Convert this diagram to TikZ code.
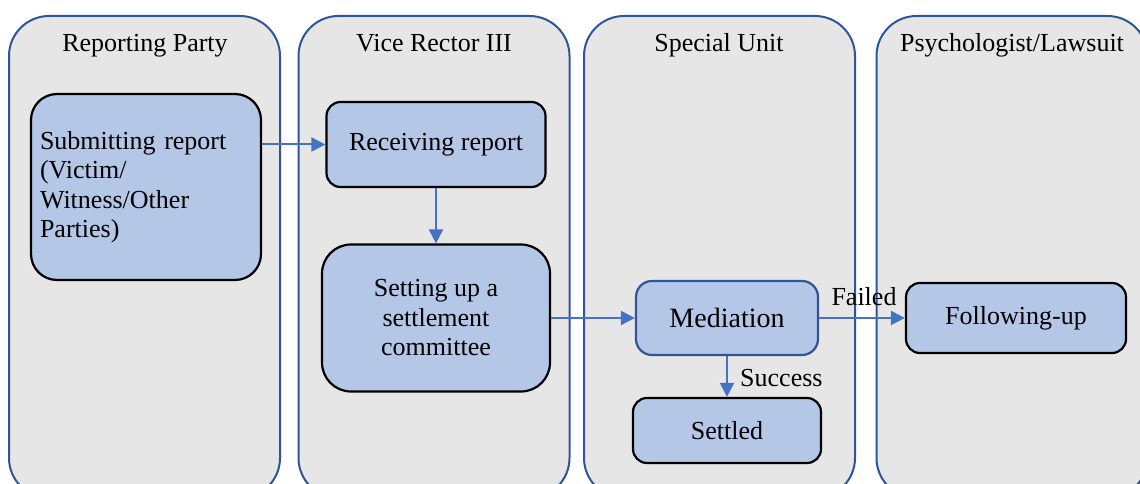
\documentclass[tikz,border=0pt]{standalone}
\usepackage{fontspec}
\setmainfont{Liberation Serif}
\usetikzlibrary{arrows.meta}
\definecolor{laneFill}{HTML}{E7E6E6}
\definecolor{laneLine}{HTML}{2F5597}
\definecolor{boxFill}{HTML}{B4C7E7}
\definecolor{flow}{HTML}{4472C4}
\begin{document}
\begin{tikzpicture}[x=1pt,y=-1pt,
  every node/.style={font=\fontsize{26}{29.5}\selectfont},
  lane/.style={draw=laneLine, fill=laneFill, line width=2pt, rounded corners=40pt,
    minimum width=271pt, minimum height=482pt, inner sep=0pt, anchor=north},
  title/.style={anchor=base, inner sep=0pt},
  stepbox/.style={draw=black, fill=boxFill, line width=2.2pt, inner sep=0pt, align=center},
  bluebox/.style={stepbox, draw=laneLine},
  lbl/.style={inner sep=0pt},
  arrow/.style={draw=flow, line width=2pt, -{Triangle[length=14pt,width=14pt]}}
]
\useasboundingbox (0,0) rectangle (1140,484);

% swimlanes
\begin{scope}
  \clip (0,0) rectangle (1140,484);
  \node[lane] (lane1) at (144.5,15) {};
  \node[lane] (lane2) at (434,15) {};
  \node[lane] (lane3) at (719.5,15) {};
  \node[lane] (lane4) at (1012,15) {};
\end{scope}

% lane headings
\node[title] (t1) at (145,52) {Reporting Party};
\node[title] (t2) at (434,52) {Vice Rector III};
\node[title] (t3) at (719,52) {Special Unit};
\node[title] (t4) at (1012,52) {Psychologist/Lawsuit};

% process steps
\node[stepbox, rounded corners=26pt, minimum width=230pt, minimum height=186pt,
      text width=212pt, align=left] (submit) at (146,187)
  {Submitting report\\(Victim/\\Witness/Other\\Parties)};
\node[stepbox, rounded corners=14pt, minimum width=219pt, minimum height=85pt] (receive) at (436,144.5)
  {Receiving report};
\node[stepbox, rounded corners=29pt, minimum width=228pt, minimum height=147pt] (committee) at (436,318)
  {Setting up a\\settlement\\committee};
\node[bluebox, rounded corners=16pt, minimum width=182pt, minimum height=74pt,
      font=\fontsize{28}{32}\selectfont] (mediation) at (727,318)
  {Mediation};
\node[stepbox, rounded corners=14pt, minimum width=188pt, minimum height=65pt] (settled) at (727,430.5)
  {Settled};
\node[stepbox, rounded corners=14pt, minimum width=220pt, minimum height=70pt] (followup) at (1016,318)
  {Following-up};

% flow connectors
\draw[arrow] (submit.east |- receive.west) -- (receive.west);
\draw[arrow] (receive.south) -- (receive.south |- committee.north);
\draw[arrow] (committee.east) -- (mediation.west);
\draw[arrow] (mediation.south) -- (settled.north);
\draw[arrow] (mediation.east) -- (followup.west);

% branch labels
\node[lbl, anchor=base west] (success) at (740,386) {Success};
\node[lbl, anchor=base] (failed) at (864,305) {Failed};
\end{tikzpicture}
\end{document}
